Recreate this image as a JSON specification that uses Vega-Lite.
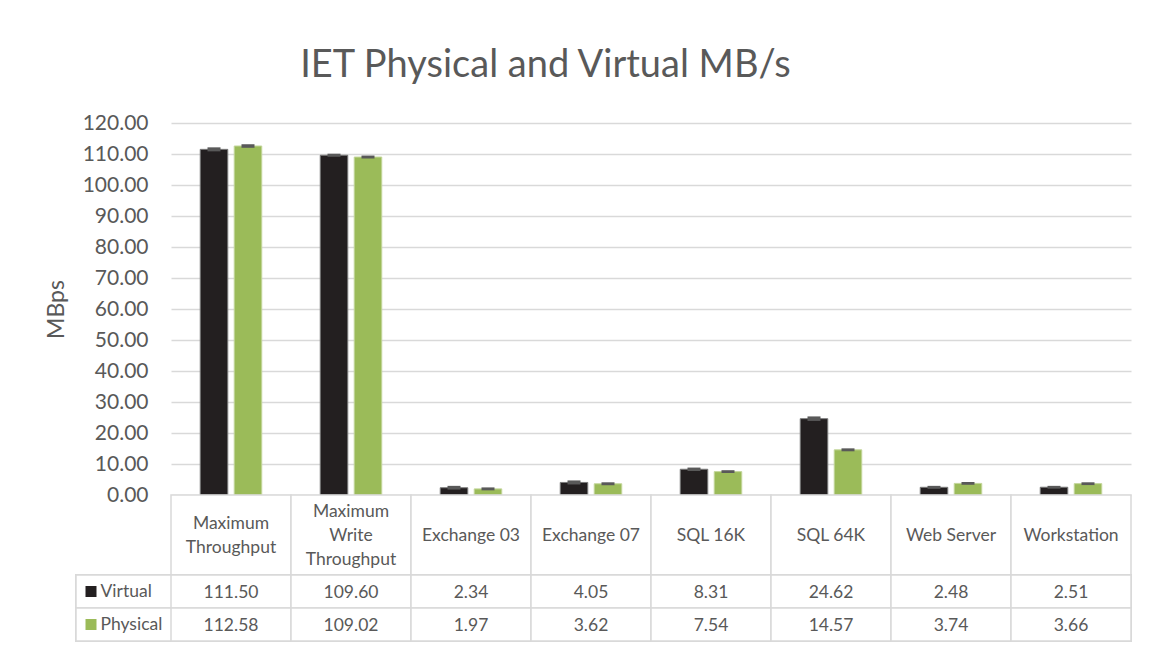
{
  "$schema": "https://vega.github.io/schema/vega-lite/v6.json",
  "padding": {"left": 45, "top": 47, "right": 10, "bottom": 5},
  "background": "white",
  "config": {"view": {"stroke": null}, "font": "Lato"},
  "title": {"text": "IET Physical and Virtual MB/s", "fontSize": 38, "font": "Lato", "fontWeight": "normal", "color": "#595959", "anchor": "middle", "dx": -43, "offset": 27},
  "datasets": {
    "bars": [
      {"cat": "Maximum Throughput", "series": "Virtual", "value": 111.50, "lo": 110.85, "hi": 112.15},
      {"cat": "Maximum Throughput", "series": "Physical", "value": 112.58, "lo": 112.0, "hi": 113.15},
      {"cat": "Maximum Write Throughput", "series": "Virtual", "value": 109.60, "lo": 109.1, "hi": 110.1},
      {"cat": "Maximum Write Throughput", "series": "Physical", "value": 109.02, "lo": 108.55, "hi": 109.5},
      {"cat": "Exchange 03", "series": "Virtual", "value": 2.34, "lo": 1.75, "hi": 2.95},
      {"cat": "Exchange 03", "series": "Physical", "value": 1.97, "lo": 1.5, "hi": 2.45},
      {"cat": "Exchange 07", "series": "Virtual", "value": 4.05, "lo": 3.4, "hi": 4.7},
      {"cat": "Exchange 07", "series": "Physical", "value": 3.62, "lo": 3.15, "hi": 4.1},
      {"cat": "SQL 16K", "series": "Virtual", "value": 8.31, "lo": 7.75, "hi": 8.85},
      {"cat": "SQL 16K", "series": "Physical", "value": 7.54, "lo": 7.1, "hi": 8.0},
      {"cat": "SQL 64K", "series": "Virtual", "value": 24.62, "lo": 23.9, "hi": 25.35},
      {"cat": "SQL 64K", "series": "Physical", "value": 14.57, "lo": 14.1, "hi": 15.05},
      {"cat": "Web Server", "series": "Virtual", "value": 2.48, "lo": 2.0, "hi": 2.95},
      {"cat": "Web Server", "series": "Physical", "value": 3.74, "lo": 3.3, "hi": 4.2},
      {"cat": "Workstation", "series": "Virtual", "value": 2.51, "lo": 2.05, "hi": 2.95},
      {"cat": "Workstation", "series": "Physical", "value": 3.66, "lo": 3.2, "hi": 4.1}
    ],
    "cats": [
      {"cat": "Maximum Throughput", "header": "Maximum\nThroughput"},
      {"cat": "Maximum Write Throughput", "header": "Maximum\nWrite\nThroughput"},
      {"cat": "Exchange 03", "header": "Exchange 03"},
      {"cat": "Exchange 07", "header": "Exchange 07"},
      {"cat": "SQL 16K", "header": "SQL 16K"},
      {"cat": "SQL 64K", "header": "SQL 64K"},
      {"cat": "Web Server", "header": "Web Server"},
      {"cat": "Workstation", "header": "Workstation"}
    ]
  },
  "spacing": 0,
  "bounds": "flush",
  "vconcat": [
    {
      "width": 1055,
      "height": 372,
      "data": {"name": "bars"},
      "resolve": {"axis": {"y": "independent"}},
      "encoding": {
        "x": {"field": "cat", "type": "nominal", "scale": {"domain": ["Maximum Throughput", "Maximum Write Throughput", "Exchange 03", "Exchange 07", "SQL 16K", "SQL 64K", "Web Server", "Workstation"], "range": [95, 1055], "paddingInner": 0, "paddingOuter": 0}, "axis": null},
        "xOffset": {"field": "series", "type": "nominal", "scale": {"domain": ["Virtual", "Physical"], "paddingInner": 0.19, "paddingOuter": 0.86}}
      },
      "layer": [
        {
          "mark": {"type": "bar", "strokeWidth": 1},
          "encoding": {
            "y": {"field": "value", "type": "quantitative", "scale": {"domain": [0, 120], "nice": false},
              "axis": {"title": "MBps", "format": ".2f", "values": [0, 10, 20, 30, 40, 50, 60, 70, 80, 90, 100, 110, 120], "labelOverlap": false, "offset": -95, "ticks": false, "tickSize": 0, "domain": false, "labelPadding": 23, "labelFontSize": 21, "labelColor": "#595959", "labelFont": "Lato", "titleFont": "Lato", "titleFontSize": 23, "titleFontWeight": "normal", "titleColor": "#595959", "titlePadding": 14, "gridColor": "#d9d9d9", "gridWidth": 1.5}},
            "color": {"field": "series", "type": "nominal", "scale": {"domain": ["Virtual", "Physical"], "range": ["#231f20", "#9bbb59"]}, "legend": null},
            "stroke": {"field": "series", "type": "nominal", "scale": {"domain": ["Virtual", "Physical"], "range": ["#7a7a7a", "#c3d69b"]}, "legend": null}
          }
        },
        {
          "mark": {"type": "bar", "size": 13, "color": "#595959"},
          "encoding": {
            "y": {"field": "lo", "type": "quantitative", "axis": null},
            "y2": {"field": "hi"}
          }
        }
      ]
    },
    {
      "width": 1055,
      "height": 80,
      "data": {"name": "cats"},
      "encoding": {
        "x": {"field": "cat", "type": "nominal", "scale": {"domain": ["Maximum Throughput", "Maximum Write Throughput", "Exchange 03", "Exchange 07", "SQL 16K", "SQL 64K", "Web Server", "Workstation"], "range": [95, 1055], "paddingInner": 0, "paddingOuter": 0}, "axis": null}
      },
      "layer": [
        {"mark": {"type": "rect", "fill": "white", "stroke": "#d9d9d9", "strokeWidth": 1.5}},
        {"mark": {"type": "text", "fontSize": 17.5, "font": "Lato", "color": "#595959", "lineBreak": "\n", "lineHeight": 24, "baseline": "middle",
                  "dy": {"expr": "-(length(split(datum.header, '\\n')) - 1) * 12 + 1"}},
         "encoding": {"text": {"field": "header", "type": "nominal"}}}
      ]
    },
    {
      "width": 1055,
      "height": 66,
      "data": {"name": "bars"},
      "encoding": {
        "y": {"field": "series", "type": "nominal", "scale": {"domain": ["Virtual", "Physical"], "paddingInner": 0, "paddingOuter": 0},
          "axis": {"title": null, "offset": -20, "domain": false, "grid": false, "ticks": true, "tickSize": 11, "tickWidth": 11, "tickCap": "butt",
            "tickColor": {"condition": {"test": "datum.value === 'Virtual'", "value": "#231f20"}, "value": "#9bbb59"},
            "labelAlign": "left", "labelPadding": -15, "labelFontSize": 17.5, "labelColor": "#595959", "labelFont": "Lato", "labelBaseline": "middle", "zindex": 1}}
      },
      "layer": [
        {"mark": {"type": "rect", "fill": "white", "stroke": "#d9d9d9", "strokeWidth": 1.5}},
        {"mark": {"type": "rect", "fill": "white", "stroke": "#d9d9d9", "strokeWidth": 1.5},
         "encoding": {"x": {"field": "cat", "type": "nominal", "scale": {"domain": ["Maximum Throughput", "Maximum Write Throughput", "Exchange 03", "Exchange 07", "SQL 16K", "SQL 64K", "Web Server", "Workstation"], "range": [95, 1055], "paddingInner": 0, "paddingOuter": 0}, "axis": null}}},
        {"mark": {"type": "text", "fontSize": 17.5, "font": "Lato", "color": "#595959", "baseline": "middle", "dy": 1},
         "encoding": {"x": {"field": "cat", "type": "nominal"},
           "text": {"field": "value", "type": "quantitative", "format": ".2f"}}}
      ]
    }
  ]
}
